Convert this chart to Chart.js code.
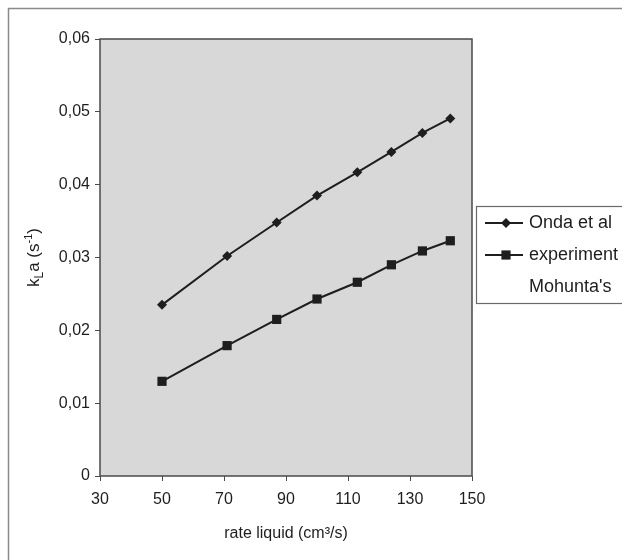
<!DOCTYPE html>
<html>
<head>
<meta charset="utf-8">
<script src="https://cdn.jsdelivr.net/npm/chart.js@4.4.1/dist/chart.umd.min.js"></script>
<style>
  html, body { margin: 0; padding: 0; background: #fff; overflow: hidden; }
</style>
</head>
<body>
<canvas id="kla-vs-rate" width="622" height="560"></canvas>
<script>
// liquid flow rate (cm3/s) and volumetric mass transfer coefficient kLa (1/s)
const liquidRate = [50, 71, 87, 100, 113, 124, 134, 143];
const ondaKla = [0.0235, 0.0302, 0.0348, 0.0385, 0.0417, 0.0445, 0.0471, 0.0491];
const experimentKla = [0.0130, 0.0179, 0.0215, 0.0243, 0.0266, 0.0290, 0.0309, 0.0323];
const mohuntaKla = [];
const seriesNames = ['Onda et al', 'experiment', "Mohunta's"];

const xTicks = [30, 50, 70, 90, 110, 130, 150];
const yTicks = ['0', '0,01', '0,02', '0,03', '0,04', '0,05', '0,06'];

const FONT = 'Liberation Sans, Arial, sans-serif';
const INK = '#1e1e1e';

const toPoints = (ys) => ys.map((y, i) => ({ x: liquidRate[i], y }));

function drawMarker(ctx, style, x, y, r) {
    ctx.beginPath();
    if (style === 'rectRot') {
        ctx.moveTo(x, y - r);
        ctx.lineTo(x + r, y);
        ctx.lineTo(x, y + r);
        ctx.lineTo(x - r, y);
        ctx.closePath();
    } else if (style === 'rect') {
        const s = r * Math.SQRT1_2;
        ctx.rect(x - s, y - s, 2 * s, 2 * s);
    } else {
        return;
    }
    ctx.fill();
}

const framePlugin = {
    id: 'frame',
    beforeDraw(chart) {
        const { ctx, chartArea: a, width, height } = chart;
        ctx.save();
        ctx.fillStyle = '#fff';
        ctx.fillRect(0, 0, width, height);
        // outer chart frame
        ctx.strokeStyle = '#8a8a8a';
        ctx.lineWidth = 1.5;
        ctx.beginPath();
        ctx.moveTo(8.5, height);
        ctx.lineTo(8.5, 8.5);
        ctx.lineTo(width, 8.5);
        ctx.stroke();
        // plot area
        ctx.fillStyle = '#d8d8d8';
        ctx.fillRect(a.left, a.top, a.right - a.left, a.bottom - a.top);
        ctx.restore();
    },
    afterDraw(chart) {
        const { ctx, chartArea: a } = chart;
        ctx.save();
        ctx.strokeStyle = '#4a4a4a';
        ctx.lineWidth = 1.5;
        ctx.strokeRect(a.left, a.top, a.right - a.left, a.bottom - a.top);

        // y axis title: k_L a (s^-1)
        ctx.translate(a.left - 67, (a.top + a.bottom) / 2);
        ctx.rotate(-Math.PI / 2);
        const parts = [
            { t: 'k', size: 17, dy: 0 },
            { t: 'L', size: 12, dy: 4 },
            { t: 'a (s', size: 17, dy: 0 },
            { t: '-1', size: 11, dy: -7 },
            { t: ')', size: 17, dy: 0 }
        ];
        let total = 0;
        parts.forEach(p => {
            ctx.font = p.size + 'px ' + FONT;
            p.w = ctx.measureText(p.t).width;
            total += p.w;
        });
        let cx = -total / 2;
        ctx.fillStyle = INK;
        ctx.textBaseline = 'alphabetic';
        parts.forEach(p => {
            ctx.font = p.size + 'px ' + FONT;
            ctx.fillText(p.t, cx, 6 + p.dy);
            cx += p.w;
        });
        ctx.restore();

        // legend box
        ctx.save();
        const lx = a.right + 4;
        const ly = a.top + 167;
        ctx.fillStyle = '#fff';
        ctx.fillRect(lx, ly, chart.width - lx + 5, 97);
        ctx.strokeStyle = '#6a6a6a';
        ctx.lineWidth = 1.2;
        ctx.strokeRect(lx + 0.5, ly + 0.5, chart.width - lx + 5, 97);
        ctx.font = '18px ' + FONT;
        ctx.textBaseline = 'middle';
        chart.data.datasets.forEach((ds, i) => {
            const y = ly + 17 + i * 32;
            if (ds.data.length) {
                ctx.strokeStyle = ds.borderColor;
                ctx.lineWidth = ds.borderWidth;
                ctx.beginPath();
                ctx.moveTo(lx + 9, y);
                ctx.lineTo(lx + 47, y);
                ctx.stroke();
                ctx.fillStyle = ds.pointBackgroundColor;
                drawMarker(ctx, ds.pointStyle, lx + 30, y, ds.pointStyle === 'rect' ? 6.5 : 5);
            }
            ctx.fillStyle = INK;
            ctx.fillText(ds.label, lx + 53, y);
        });
        ctx.restore();
    }
};

new Chart(
    document.getElementById('kla-vs-rate'),
    {
        type: 'scatter',
        data: {
            datasets: [
                {
                    label: seriesNames[0],
                    data: toPoints(ondaKla),
                    showLine: true,
                    borderColor: INK,
                    borderWidth: 2,
                    pointStyle: 'rectRot',
                    pointRadius: 5,
                    pointBackgroundColor: INK,
                    pointBorderWidth: 0
                },
                {
                    label: seriesNames[1],
                    data: toPoints(experimentKla),
                    showLine: true,
                    borderColor: INK,
                    borderWidth: 2,
                    pointStyle: 'rect',
                    pointRadius: 6.5,
                    pointBackgroundColor: INK,
                    pointBorderWidth: 0
                },
                {
                    label: seriesNames[2],
                    data: toPoints(mohuntaKla),
                    showLine: false,
                    pointRadius: 0
                }
            ]
        },
        options: {
            responsive: false,
            animation: false,
            layout: {
                padding: { left: 8, right: 150, top: 39, bottom: 0 }
            },
            plugins: {
                legend: { display: false },
                tooltip: { enabled: false }
            },
            scales: {
                x: {
                    type: 'linear',
                    min: 30,
                    max: 150,
                    afterFit: (scale) => { scale.height = 84; },
                    border: { display: false },
                    grid: { drawOnChartArea: false, tickLength: 5, color: '#4a4a4a' },
                    ticks: {
                        stepSize: 20,
                        padding: 9,
                        color: INK,
                        font: { family: FONT, size: 16 },
                        callback: (v) => xTicks.includes(v) ? String(v) : ''
                    },
                    title: {
                        display: true,
                        text: 'rate liquid (cm³/s)',
                        color: INK,
                        font: { family: FONT, size: 16 },
                        padding: { top: 0, bottom: 17 }
                    }
                },
                y: {
                    min: 0,
                    max: 0.06,
                    afterFit: (scale) => { scale.width = 92; },
                    border: { display: false },
                    grid: { drawOnChartArea: false, tickLength: 5, color: '#4a4a4a' },
                    ticks: {
                        stepSize: 0.01,
                        padding: 5,
                        color: INK,
                        font: { family: FONT, size: 16 },
                        callback: (v) => yTicks[Math.round(v / 0.01)]
                    }
                }
            }
        },
        plugins: [framePlugin]
    }
);
</script>
</body>
</html>
